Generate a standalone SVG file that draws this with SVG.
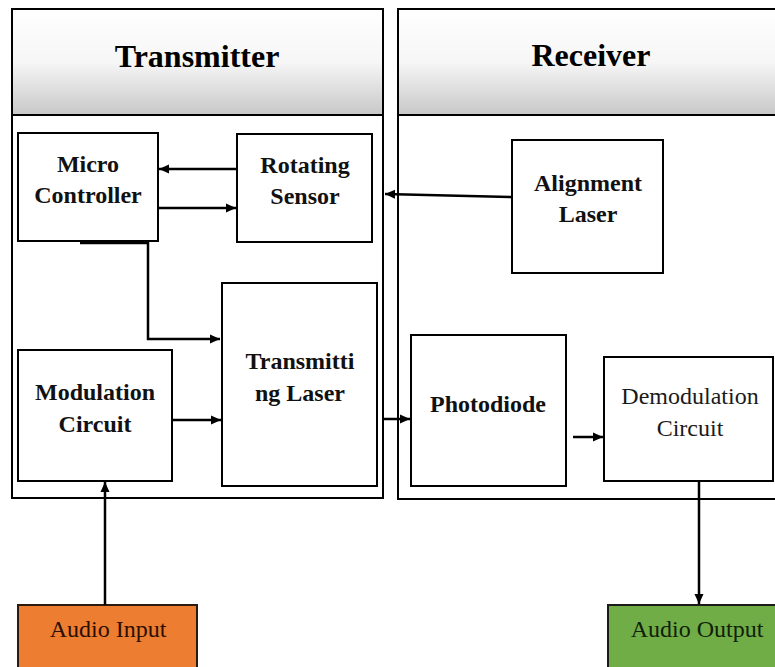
<svg xmlns="http://www.w3.org/2000/svg" width="775" height="667" viewBox="0 0 775 667">
<defs>
<linearGradient id="hdr" x1="0" y1="0" x2="0" y2="1">
<stop offset="0" stop-color="#ffffff"/>
<stop offset="0.5" stop-color="#f6f6f6"/>
<stop offset="1" stop-color="#c8c8c8"/>
</linearGradient>
<marker id="ah" markerUnits="userSpaceOnUse" markerWidth="11" markerHeight="10" refX="10" refY="5" orient="auto">
<path d="M0,0.5 L10,5 L0,9.5 z" fill="#000"/>
</marker>
</defs>
<style>
.box{fill:#fff;stroke:#000;stroke-width:2}
.hdr{fill:url(#hdr);stroke:#000;stroke-width:2}
text{font-family:'Liberation Serif','Times New Roman',Times,'DejaVu Serif',serif}
.title{font-weight:bold;font-size:32px;fill:#000;text-anchor:middle}
.lb{font-weight:bold;font-size:24px;fill:#111;text-anchor:middle}
.lr{font-size:24px;fill:#1a1a1a;text-anchor:middle}
.c{fill:none;stroke:#000;stroke-width:2.5}
</style>
<rect width="775" height="667" fill="#fff"/>
<g id="transmitter">
<rect class="box" x="12" y="9" width="371" height="489"/>
<rect class="hdr" x="12" y="9" width="371" height="106"/>
<text class="title" x="197" y="67" font-family="Liberation Serif, serif">Transmitter</text>
</g>
<g id="receiver">
<rect class="box" x="398" y="9" width="390" height="490"/>
<rect class="hdr" x="398" y="9" width="390" height="106"/>
<text class="title" x="591" y="66">Receiver</text>
</g>
<g id="micro-controller">
<rect class="box" x="18" y="133" width="140" height="108"/>
<text class="lb" x="88" y="172">Micro</text>
<text class="lb" x="88" y="203">Controller</text>
</g>
<g id="rotating-sensor">
<rect class="box" x="237" y="134" width="135" height="108"/>
<text class="lb" x="305" y="173">Rotating</text>
<text class="lb" x="305" y="204">Sensor</text>
</g>
<g id="alignment-laser">
<rect class="box" x="512" y="140" width="151" height="133"/>
<text class="lb" x="588" y="191">Alignment</text>
<text class="lb" x="588" y="222">Laser</text>
</g>
<g id="transmitting-laser">
<rect class="box" x="222" y="283" width="155" height="203"/>
<text class="lb" x="300" y="369">Transmitti</text>
<text class="lb" x="300" y="401">ng Laser</text>
</g>
<g id="modulation-circuit">
<rect class="box" x="18" y="350" width="154" height="131"/>
<text class="lb" x="95" y="400">Modulation</text>
<text class="lb" x="95" y="432">Circuit</text>
</g>
<g id="photodiode">
<rect class="box" x="411" y="335" width="155" height="151"/>
<text class="lb" x="488" y="412">Photodiode</text>
</g>
<g id="demodulation-circuit">
<rect class="box" x="604" y="357" width="169" height="124"/>
<text class="lr" x="690" y="404">Demodulation</text>
<text class="lr" x="690" y="436">Circuit</text>
</g>
<g id="audio-input">
<rect x="18" y="605" width="179" height="70" fill="#ED7D31" stroke="#2a1a10" stroke-width="2"/>
<text class="lr" x="108" y="637" style="fill:#2a0f00">Audio Input</text>
</g>
<g id="audio-output">
<rect x="608" y="605" width="180" height="70" fill="#70AD47" stroke="#1a1a1a" stroke-width="2"/>
<text class="lr" x="697" y="637" style="fill:#10200a">Audio Output</text>
</g>
<g id="connectors">
<line class="c" x1="237" y1="169" x2="159" y2="169" marker-end="url(#ah)"/>
<line class="c" x1="158" y1="208" x2="236" y2="208" marker-end="url(#ah)"/>
<line x1="80" y1="242.5" x2="149" y2="242.5" stroke="#000" stroke-width="3.5"/>
<path class="c" d="M148,242 V339 H220" marker-end="url(#ah)"/>
<line class="c" x1="512" y1="197" x2="385" y2="194" marker-end="url(#ah)"/>
<line class="c" x1="172" y1="420" x2="221" y2="420" marker-end="url(#ah)"/>
<line class="c" x1="383" y1="419" x2="410" y2="419" marker-end="url(#ah)"/>
<line class="c" x1="573" y1="437" x2="603" y2="437" marker-end="url(#ah)"/>
<line class="c" x1="699" y1="481" x2="699" y2="604" marker-end="url(#ah)"/>
<line class="c" x1="105" y1="605" x2="105" y2="482" marker-end="url(#ah)"/>
</g>
</svg>
